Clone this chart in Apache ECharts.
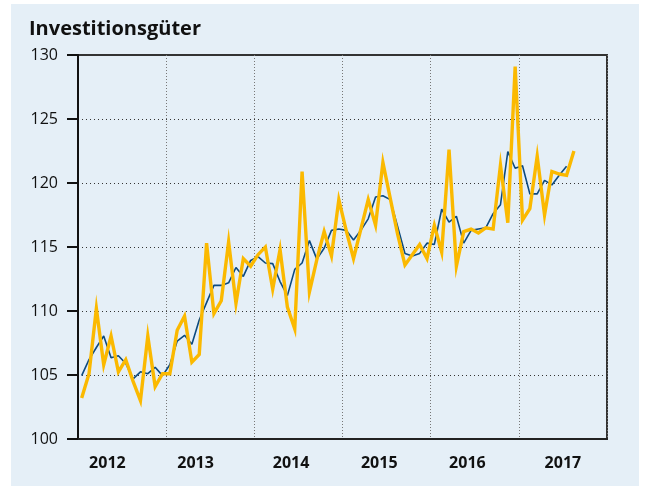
<!DOCTYPE html>
<html>
<head>
<meta charset="utf-8">
<script src="https://cdn.jsdelivr.net/npm/echarts@6/dist/echarts.min.js"></script>
<style>
  html, body { margin: 0; padding: 0; background: #ffffff; }
  #wrap { position: relative; width: 646px; height: 486px; background: #ffffff; overflow: hidden; }
  #chart { position: absolute; left: 11px; top: 4px; width: 628px; height: 482px; }
</style>
</head>
<body>
<div id="wrap"><div id="chart"></div></div>
<script>
// Monthly data, Jan 2012 onward
const title = 'Investitionsgüter';
const years = ['2012', '2013', '2014', '2015', '2016', '2017'];
const yTicks = [100, 105, 110, 115, 120, 125, 130];

// Monthly values (orange line)
const monthly = [
  103.2, 105.1, 110.2, 105.8, 108.05, 105.25, 106.2, 104.5, 103.0, 108.05, 104.1, 105.1,
  105.1, 108.5, 109.6, 106.0, 106.6, 115.3, 109.8, 110.8, 115.4, 110.6, 114.1, 113.5,
  114.4, 115.0, 111.7, 114.8, 110.3, 108.6, 120.9, 111.5, 114.0, 116.2, 114.3, 118.7,
  116.3, 114.1, 116.4, 118.7, 116.7, 121.6, 118.8, 116.0, 113.6, 114.4, 115.2, 114.1,
  116.7, 114.6, 122.6, 113.5, 116.2, 116.4, 116.1, 116.5, 116.4, 121.4, 116.9, 129.1,
  117.1, 118.0, 122.1, 117.5, 120.9, 120.7, 120.6, 122.5
];

// Smoothed values (dark blue line)
const smoothed = [
  104.95, 106.2, 107.15, 108.05, 106.35, 106.5, 105.9, 104.7, 105.25, 105.1, 105.6, 104.95,
  105.8, 107.65, 108.1, 107.4, 109.3, 110.65, 112.0, 112.0, 112.2, 113.4, 112.7, 113.95,
  114.25, 113.75, 113.7, 112.3, 111.2, 113.25, 113.75, 115.5, 114.05, 114.9, 116.3, 116.4,
  116.3, 115.55, 116.3, 117.2, 118.9, 119.0, 118.7, 116.6, 114.5, 114.3, 114.5, 115.3,
  115.2, 117.95, 116.95, 117.4, 115.3, 116.3, 116.4, 116.5, 117.6, 118.3, 122.45, 121.15,
  121.35, 119.15, 119.15, 120.2, 119.85, 120.6, 121.3
];

const toPoints = arr => arr.map((v, i) => [i + 0.5, v]);

const chart = echarts.init(document.getElementById('chart'), null, { renderer: 'canvas' });
const gridLine = { show: true, lineStyle: { type: [1, 3], color: '#333', width: 1 } };

chart.setOption({
  backgroundColor: '#e5eff7',
  animation: false,
  title: {
    text: title, left: 13, top: 10,
    textStyle: { fontFamily: 'Open Sans', fontWeight: 'bold', fontSize: 20, color: '#111' }
  },
  grid: {
    left: 67, top: 51, right: 32, bottom: 47,
    show: true, borderColor: '#333', borderWidth: 2, backgroundColor: '#e5eff7'
  },
  xAxis: [
    {
      type: 'value', min: 0, max: 72, interval: 12,
      axisLine: { show: true, lineStyle: { color: '#222', width: 2 } },
      axisTick: { show: false }, axisLabel: { show: false },
      splitLine: { show: true, lineStyle: { type: [1, 2], color: '#777', width: 1 } }
    },
    {
      type: 'value', min: 0, max: 72, interval: 1, position: 'bottom',
      axisLine: { show: false }, axisTick: { show: false }, splitLine: { show: false },
      axisLabel: {
        show: true, margin: 16, fontFamily: 'Open Sans', fontWeight: 'bold', fontSize: 16, color: '#111',
        formatter: v => {
          for (let k = 0; k < years.length; k++) {
            if (Math.round(4 + 12.33 * k) === v) return years[k];
          }
          return '';
        }
      }
    }
  ],
  yAxis: {
    type: 'value', min: yTicks[0], max: yTicks[yTicks.length - 1], interval: 5,
    axisLine: { show: true, lineStyle: { color: '#111', width: 2 } },
    axisTick: { show: true, length: 11, lineStyle: { color: '#111', width: 2 } },
    axisLabel: { margin: 20, fontFamily: 'Open Sans', fontSize: 16, color: '#111' },
    splitLine: gridLine
  },
  series: [
    {
      type: 'line', data: toPoints(smoothed), xAxisIndex: 0, symbol: 'none',
      lineStyle: { color: '#0c4a80', width: 1.6 }, z: 3
    },
    {
      type: 'line', data: toPoints(monthly), xAxisIndex: 0, symbol: 'none',
      lineStyle: { color: '#fbb900', width: 3.4, join: 'miter' }, z: 4
    }
  ]
});
</script>
</body>
</html>
